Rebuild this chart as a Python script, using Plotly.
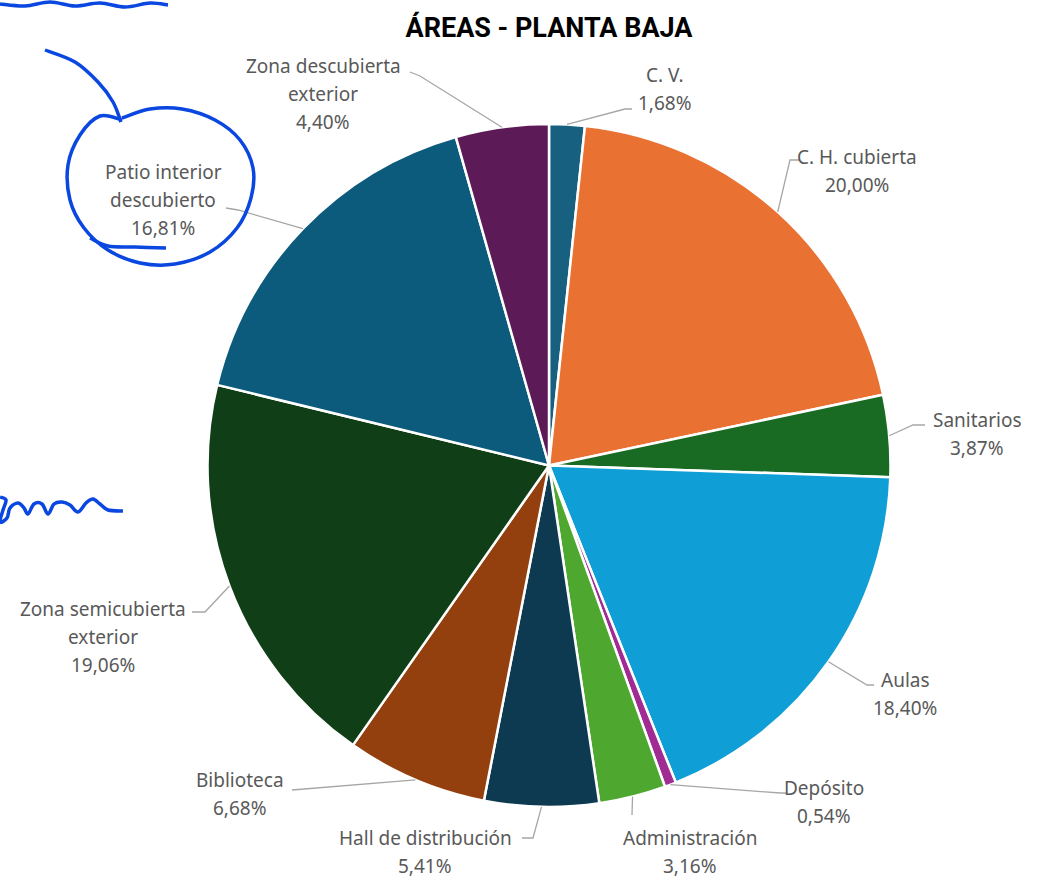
import math
import plotly.graph_objects as go

# data
categorias = ["C. V.", "C. H. cubierta", "Sanitarios", "Aulas", "Depósito", "Administración",
              "Hall de distribución", "Biblioteca", "Zona semicubierta exterior",
              "Patio interior descubierto", "Zona descubierta exterior"]
porcentajes = [1.68, 20.00, 3.87, 18.40, 0.54, 3.16, 5.41, 6.68, 19.06, 16.81, 4.40]
etiquetas = [["C. V."], ["C. H. cubierta"], ["Sanitarios"], ["Aulas"], ["Depósito"],
             ["Administración"], ["Hall de distribución"], ["Biblioteca"],
             ["Zona semicubierta", "exterior"], ["Patio interior", "descubierto"],
             ["Zona descubierta", "exterior"]]
colores = ["#17607f", "#e97132", "#196b24", "#0f9ed5", "#a02b93", "#4ea72e",
           "#0d3a51", "#94400e", "#103f17", "#0c5a7c", "#5c1a56"]

W, H = 1042, 880
CX, CY, R = 549, 465.5, 341.5
INTERLINEA = 28

# label layout (pixels): text centre, line end, stub end
layout_lbl = [
    ((665, 89), (625, 109), (632, 109)),
    ((857, 171), (790, 160), (800, 160)),
    ((977, 434), (913, 425), (925, 425)),
    ((905, 694), (867, 685), (874, 685)),
    ((824, 802), (780, 793), (786, 793)),
    ((690, 852), (632, 815), (632, 815)),
    ((425, 852), (533, 838), (522, 838)),
    ((240, 794), (292, 790), (292, 790)),
    ((103, 637), (205, 612), (192, 612)),
    ((163, 200), (238, 210), (226, 208)),
    ((323, 94), (420, 76), (410, 72)),
]


def px(x, y):
    return x / W, 1 - y / H


fig = go.Figure(go.Pie(
    labels=categorias, values=porcentajes, sort=False, direction="clockwise", rotation=0,
    marker=dict(colors=colores, line=dict(color="white", width=2.5)),
    textinfo="none", hoverinfo="label+percent", showlegend=False,
    domain=dict(x=[(CX - R) / W, (CX + R) / W], y=[1 - (CY + R) / H, 1 - (CY - R) / H]),
))

total = sum(porcentajes)
acum = 0
shapes = []
annotations = []
for v, lbl, (tc, le, st) in zip(porcentajes, etiquetas, layout_lbl):
    theta = 2 * math.pi * (acum + v / 2) / total
    acum += v
    sx, sy = CX + R * math.sin(theta), CY - R * math.cos(theta)
    pts = [px(sx, sy), px(*le), px(*st)]
    path = "M " + " L ".join(f"{a},{b}" for a, b in pts)
    shapes.append(dict(type="path", xref="paper", yref="paper", path=path,
                       line=dict(color="#a6a6a6", width=1.3)))
    lineas = lbl + [f"{v:.2f}".replace(".", ",") + "%"]
    n = len(lineas)
    for i, t in enumerate(lineas):
        tx, ty = px(tc[0], tc[1] + (i - (n - 1) / 2) * INTERLINEA)
        annotations.append(dict(x=tx, y=ty, xref="paper", yref="paper", showarrow=False,
                                xanchor="center", yanchor="middle", text=t,
                                font=dict(family="Noto Sans", size=19, color="#595959")))


# blue handwritten marks (smoothed with catmull-rom)
def trazo(puntos):
    pp = [px(a, b) for a, b in puntos]
    d = f"M {pp[0][0]},{pp[0][1]}"
    for i in range(len(pp) - 1):
        p0 = pp[i - 1] if i > 0 else pp[i]
        p1, p2 = pp[i], pp[i + 1]
        p3 = pp[i + 2] if i + 2 < len(pp) else p2
        c1 = (p1[0] + (p2[0] - p0[0]) / 6, p1[1] + (p2[1] - p0[1]) / 6)
        c2 = (p2[0] - (p3[0] - p1[0]) / 6, p2[1] - (p3[1] - p1[1]) / 6)
        d += f" C {c1[0]},{c1[1]} {c2[0]},{c2[1]} {p2[0]},{p2[1]}"
    return d

azul = "#0a47e0"
marcas = [
    [(122, 120), (100, 116), (80, 135), (68, 165), (70, 200), (84, 228),
     (108, 250), (140, 263), (175, 264), (210, 252), (237, 228), (251, 198), (253, 168),
     (240, 140), (215, 120), (182, 109), (150, 109), (122, 118)],
    [(90, 238), (108, 246), (135, 247), (166, 248)],
    [(45, 50), (75, 62), (98, 82), (113, 102), (121, 122)],
    [(0, 497), (6, 500), (3, 510), (0, 522), (7, 518), (10, 508), (18, 503), (24, 508),
     (28, 514), (34, 504), (42, 504), (48, 514), (54, 504), (62, 502), (70, 505), (78, 512),
     (86, 503), (93, 499), (100, 504), (108, 510), (123, 511)],
    [(0, 4), (25, 6), (50, 2), (75, 6), (100, 3), (125, 7), (150, 3), (168, 5)],
]
for m in marcas:
    shapes.append(dict(type="path", xref="paper", yref="paper", path=trazo(m),
                       line=dict(color=azul, width=3.5)))

fig.update_layout(
    width=W, height=H,
    margin=dict(l=0, r=0, t=0, b=0),
    paper_bgcolor="white", plot_bgcolor="white",
    title=dict(text="<b>ÁREAS - PLANTA BAJA</b>", x=CX / W, xanchor="center",
               y=1 - 28 / H, yanchor="middle",
               font=dict(family="Roboto", size=27, color="#000000")),
    shapes=shapes, annotations=annotations,
)

fig.write_html("out.html", config={"displayModeBar": False},
               post_script="document.body.style.margin='0';")
